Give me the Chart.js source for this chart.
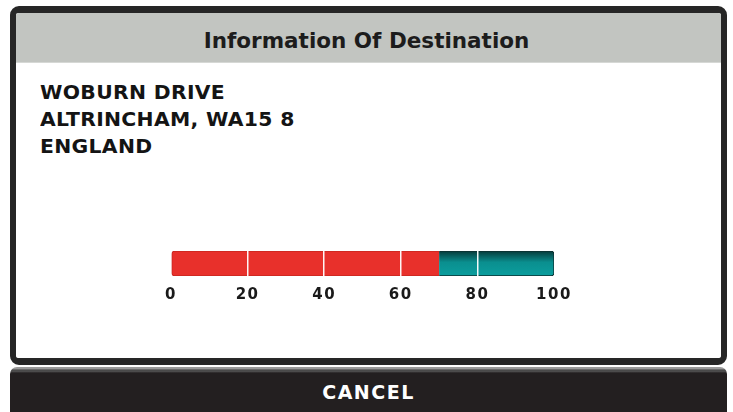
<!DOCTYPE html>
<html>
<head>
<meta charset="utf-8">
<script src="https://cdn.jsdelivr.net/npm/chart.js@4/dist/chart.umd.min.js"></script>
<style>
  html, body { margin: 0; padding: 0; background: #ffffff; width: 733px; height: 412px; overflow: hidden; }
  body { position: relative; font-family: "DejaVu Sans", sans-serif; }
  #panel {
    position: absolute; left: 10px; top: 6px; width: 705px; height: 345px;
    border: 6px solid #262626; border-top-width: 7px; border-bottom-width: 7px;
    border-radius: 9px; background: #ffffff; overflow: hidden;
  }
  #header {
    position: absolute; left: 0; top: 0; width: 100%; height: 49px;
    background: #c2c5c1; border-bottom: 1px solid #d6d8d5;
  }
  #title {
    position: absolute; left: 0; top: 26px; width: 100%; text-align: center;
    font-weight: bold; font-size: 21.5px; line-height: 30px; color: #1c1c1c;
  }
  #address {
    position: absolute; left: 40px; top: 79px;
    font-weight: bold; font-size: 19px; line-height: 27px; letter-spacing: 0.3px; color: #141414;
    transform: scaleX(1.07); transform-origin: 0 0;
  }
  #button {
    position: absolute; left: 10px; top: 367px; width: 717px; height: 60px;
    background: linear-gradient(#9a9a9a 0px, #9a9a9a 2px, #3a3a3a 3px, #5a5a5a 4px, #231f20 6px, #231f20 100%);
    border-radius: 7px 7px 0 0;
  }
  #cancel {
    position: absolute; left: 0; top: 13px; width: 100%; text-align: center;
    font-weight: bold; font-size: 19px; line-height: 24px; letter-spacing: 1.5px; color: #ffffff;
  }
  #chartBox { position: absolute; left: 131px; top: 240px; width: 463px; height: 70px; }
</style>
</head>
<body>
<div id="panel">
  <div id="header"></div>
</div>
<div id="title">Information Of Destination</div>
<div id="address">WOBURN DRIVE<br>ALTRINCHAM, WA15 8<br>ENGLAND</div>
<div id="chartBox"><canvas id="c" width="463" height="70"></canvas></div>
<div id="button"><div id="cancel">CANCEL</div></div>
<script>
// ---- data ----
const categories = ['Destination'];
const progressValues = [70];
const remainingValues = [30];
const tickValues = [0, 20, 40, 60, 80, 100];
const seriesNames = ['Travelled', 'Remaining'];

const spacingPlugin = {
  id: 'letterSpacing',
  beforeUpdate(chart) { chart.ctx.letterSpacing = '1.5px'; },
  beforeDraw(chart) { chart.ctx.letterSpacing = '1.5px'; }
};

function tealFill(ctx) {
  const chart = ctx.chart;
  const area = chart.chartArea;
  if (!area) return '#0a9a9a';
  const g = chart.ctx.createLinearGradient(0, area.top, 0, area.bottom);
  g.addColorStop(0, '#063a3a');
  g.addColorStop(0.45, '#0a8f8f');
  g.addColorStop(1, '#0b9e9e');
  return g;
}

new Chart(document.getElementById('c'), {
  type: 'bar',
  data: {
    labels: categories,
    datasets: [
      {
        label: seriesNames[0], data: progressValues,
        backgroundColor: '#e8302b', borderColor: '#c8261f',
        borderWidth: { left: 1, top: 1, bottom: 1, right: 0 },
        borderSkipped: false,
        borderRadius: { topLeft: 3, bottomLeft: 3, topRight: 0, bottomRight: 0 },
        barPercentage: 1, categoryPercentage: 1
      },
      {
        label: seriesNames[1], data: remainingValues,
        backgroundColor: tealFill, borderColor: '#0b2f30',
        borderWidth: { left: 0, top: 1, bottom: 1, right: 1 },
        borderSkipped: false,
        borderRadius: { topLeft: 0, bottomLeft: 0, topRight: 3, bottomRight: 3 },
        barPercentage: 1, categoryPercentage: 1
      }
    ]
  },
  options: {
    indexAxis: 'y',
    responsive: false,
    devicePixelRatio: 1,
    animation: false,
    layout: { padding: { left: 40, right: 40, top: 11, bottom: 9 } },
    plugins: { legend: { display: false }, tooltip: { enabled: false } },
    scales: {
      x: {
        stacked: true, min: 0, max: 100,
        afterBuildTicks(scale) { scale.ticks = tickValues.map(v => ({ value: v })); },
        border: { display: false },
        grid: {
          z: 1,
          drawTicks: false,
          lineWidth: 1.5,
          color(ctx) {
            const v = ctx.tick && ctx.tick.value;
            return (v > 0 && v < 100) ? 'rgba(255,255,255,0.95)' : 'rgba(0,0,0,0)';
          }
        },
        ticks: {
          padding: 10, color: '#1a1a1a', maxRotation: 0, autoSkip: false,
          font: { family: 'DejaVu Sans', weight: 'bold', size: 15 }
        }
      },
      y: { stacked: true, display: false }
    }
  },
  plugins: [spacingPlugin]
});
</script>
</body>
</html>
